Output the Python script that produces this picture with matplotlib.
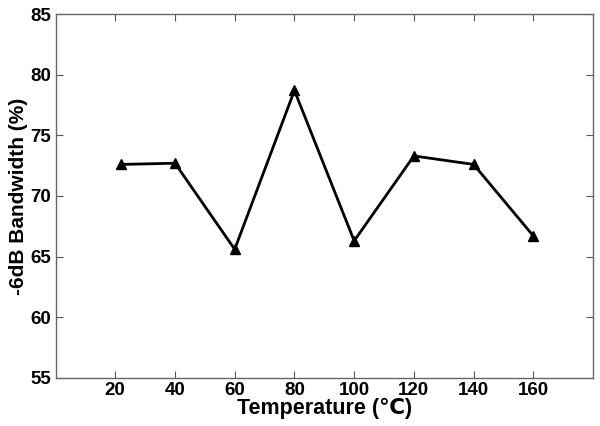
import matplotlib
matplotlib.use('Agg')
import matplotlib.pyplot as plt

plt.rcParams['font.family'] = ['Liberation Sans', 'DejaVu Sans']

temperature = [22, 40, 60, 80, 100, 120, 140, 160]
bandwidth = [72.6, 72.7, 65.6, 78.7, 66.3, 73.3, 72.6, 66.7]
xticks = [20, 40, 60, 80, 100, 120, 140, 160]
yticks = [55, 60, 65, 70, 75, 80, 85]

fig = plt.figure(figsize=(6, 4.26), dpi=100)
ax = fig.add_axes([0.0925, 0.113, 0.896, 0.854])

ax.plot(temperature, bandwidth, color='black', linewidth=2, marker='^', markersize=7.5)

ax.set_xlim(0, 180)
ax.set_ylim(55, 85)
ax.set_xticks(xticks)
ax.set_yticks(yticks)
ax.tick_params(direction='in', top=True, right=True, length=5, width=0.8, color='#555555',
               labelsize=13.5, pad=3)
for lbl in ax.get_xticklabels() + ax.get_yticklabels():
    lbl.set_fontweight('bold')
for s in ax.spines.values():
    s.set_color('#666666')
    s.set_linewidth(1)

ax.set_xlabel('Temperature (℃)', fontsize=15.5, fontweight='bold', labelpad=-1)
ax.set_ylabel('-6dB Bandwidth (%)', fontsize=15, fontweight='bold', labelpad=2)

fig.savefig('out.png', dpi=100)
